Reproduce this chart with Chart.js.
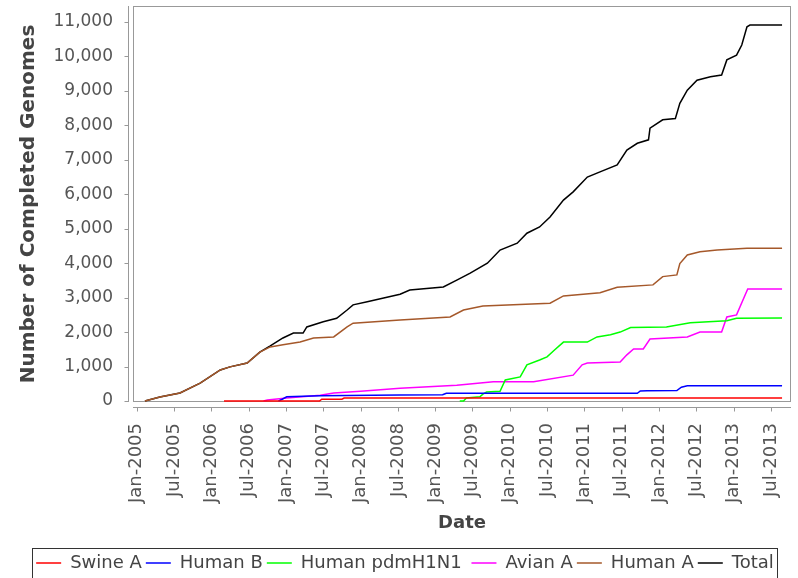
<!DOCTYPE html>
<html>
<head>
<meta charset="utf-8">
<script src="https://cdn.jsdelivr.net/npm/chart.js@4.4.0/dist/chart.umd.min.js"></script>
<style>
html, body { margin: 0; padding: 0; background: #fff; }
</style>
</head>
<body>
<canvas id="genomeChart" width="798" height="578"></canvas>
<script>
// x values are decimal years (Jan = .0, Jul = .5)
const tickLabels = ['Jan-2005', 'Jul-2005', 'Jan-2006', 'Jul-2006', 'Jan-2007', 'Jul-2007',
    'Jan-2008', 'Jul-2008', 'Jan-2009', 'Jul-2009', 'Jan-2010', 'Jul-2010', 'Jan-2011',
    'Jul-2011', 'Jan-2012', 'Jul-2012', 'Jan-2013', 'Jul-2013'];
const yTickValues = [0, 1000, 2000, 3000, 4000, 5000, 6000, 7000, 8000, 9000, 10000, 11000];

const swineDates = [2006.17, 2007.45, 2007.48, 2007.75, 2007.78, 2013.65];
const swineCounts = [0, 0, 50, 50, 85, 85];

const humanBDates = [2006.9, 2006.95, 2007.01, 2007.46, 2008.17, 2008.53, 2009.1, 2009.15, 2011.71, 2011.75, 2011.84, 2012.24, 2012.3, 2012.38, 2013.65];
const humanBCounts = [0, 50, 120, 150, 170, 175, 180, 225, 225, 290, 300, 305, 400, 445, 445];

const pdmDates = [2009.33, 2009.38, 2009.42, 2009.6, 2009.64, 2009.69, 2009.87, 2009.94, 2010.14, 2010.23, 2010.4, 2010.5, 2010.6, 2010.72, 2011.04, 2011.17, 2011.35, 2011.48, 2011.62, 2012.1, 2012.42, 2012.91, 2013.04, 2013.65];
const pdmCounts = [0, 0, 90, 120, 200, 260, 280, 610, 700, 1050, 1190, 1280, 1480, 1710, 1710, 1860, 1920, 2000, 2130, 2150, 2270, 2330, 2400, 2410];

const avianDates = [2006.7, 2006.75, 2007.01, 2007.46, 2007.64, 2008.0, 2008.53, 2009.29, 2009.78, 2010.32, 2010.85, 2010.97, 2011.04, 2011.48, 2011.57, 2011.66, 2011.79, 2011.88, 2012.38, 2012.55, 2012.84, 2012.91, 2013.04, 2013.19, 2013.65];
const avianCounts = [0, 30, 90, 170, 230, 280, 370, 460, 560, 560, 750, 1050, 1100, 1130, 1340, 1510, 1510, 1800, 1860, 2000, 2000, 2440, 2500, 3250, 3250];

const humanADates = [2005.11, 2005.31, 2005.58, 2005.85, 2006.12, 2006.25, 2006.48, 2006.65, 2006.79, 2006.96, 2007.19, 2007.37, 2007.64, 2007.82, 2007.9, 2008.53, 2009.2, 2009.38, 2009.64, 2010.54, 2010.72, 2011.21, 2011.44, 2011.92, 2012.05, 2012.24, 2012.28, 2012.38, 2012.55, 2012.78, 2013.18, 2013.65];
const humanACounts = [0, 116, 232, 520, 900, 990, 1100, 1420, 1570, 1630, 1710, 1830, 1860, 2150, 2260, 2350, 2440, 2640, 2760, 2840, 3050, 3140, 3300, 3370, 3610, 3660, 3990, 4240, 4330, 4380, 4430, 4430];

const totalDates = [2005.11, 2005.31, 2005.58, 2005.85, 2006.12, 2006.25, 2006.48, 2006.65, 2006.79, 2006.96, 2007.1, 2007.23, 2007.28, 2007.5, 2007.68, 2007.82, 2007.9, 2008.09, 2008.31, 2008.53, 2008.66, 2009.11, 2009.29, 2009.47, 2009.7, 2009.87, 2010.1, 2010.23, 2010.4, 2010.54, 2010.72, 2010.85, 2011.04, 2011.21, 2011.44, 2011.57, 2011.71, 2011.86, 2011.88, 2012.05, 2012.22, 2012.28, 2012.38, 2012.51, 2012.69, 2012.84, 2012.91, 2013.04, 2013.11, 2013.18, 2013.22, 2013.65];
const totalCounts = [0, 116, 232, 520, 900, 990, 1100, 1420, 1600, 1830, 1970, 1970, 2150, 2300, 2400, 2640, 2790, 2880, 2990, 3100, 3220, 3310, 3510, 3710, 4000, 4380, 4580, 4870, 5050, 5340, 5830, 6070, 6500, 6650, 6850, 7280, 7480, 7580, 7920, 8160, 8200, 8640, 9020, 9310, 9410, 9460, 9900, 10040, 10330, 10860, 10910, 10910];

const FONT = 'DejaVu Sans';

function toPoints(dates, counts) {
    return dates.map((d, i) => ({ x: d, y: counts[i] }));
}

function labelToYear(label) {
    const [mon, yr] = label.split('-');
    return Number(yr) + (mon === 'Jul' ? 0.5 : 0);
}

function series(label, dates, counts, color) {
    return {
        label: label,
        data: toPoints(dates, counts),
        borderColor: color,
        backgroundColor: color,
        borderWidth: 1.5,
        pointRadius: 0,
        tension: 0,
        fill: false,
        clip: false,
    };
}

// plot outline, offset axis lines and tick marks, legend frame
const framePlugin = {
    id: 'frame',
    beforeDatasetsDraw(chart) {
        const { ctx, chartArea: a, scales: { x, y } } = chart;
        ctx.save();
        ctx.strokeStyle = '#999';
        ctx.lineWidth = 1;
        ctx.strokeRect(a.left + 0.5, a.top + 0.5, a.right - a.left - 1, a.bottom - a.top - 1);
        ctx.beginPath();
        const ax = a.left - 4.5;
        ctx.moveTo(ax, a.top);
        ctx.lineTo(ax, a.bottom);
        y.ticks.forEach((t) => {
            const py = Math.round(y.getPixelForValue(t.value)) + 0.5;
            ctx.moveTo(ax, py);
            ctx.lineTo(ax - 4, py);
        });
        const ay = a.bottom + 5.5;
        ctx.moveTo(a.left, ay);
        ctx.lineTo(a.right, ay);
        x.ticks.forEach((t) => {
            const px = Math.round(x.getPixelForValue(t.value)) + 0.5;
            ctx.moveTo(px, ay);
            ctx.lineTo(px, ay + 4);
        });
        ctx.stroke();
        ctx.restore();
    },
    afterDraw(chart) {
        const lg = chart.legend;
        const boxes = lg.legendHitBoxes;
        if (!boxes || !boxes.length) return;
        const first = boxes[0];
        const last = boxes[boxes.length - 1];
        const ctx = chart.ctx;
        ctx.save();
        ctx.strokeStyle = '#333';
        ctx.lineWidth = 1;
        ctx.strokeRect(Math.round(first.left - 4) + 0.5, Math.round(lg.top - 2) + 0.5,
            Math.round(last.left + last.width - first.left + 7), 40);
        ctx.restore();
    },
};

const ctx = document.getElementById('genomeChart').getContext('2d');
const chart = new Chart(ctx, {
    type: 'line',
    data: {
        datasets: [
            series('Swine A', swineDates, swineCounts, 'rgb(255, 0, 0)'),
            series('Human B', humanBDates, humanBCounts, 'rgb(0, 0, 255)'),
            series('Human pdmH1N1 ', pdmDates, pdmCounts, 'rgb(0, 255, 0)'),
            series('Avian A', avianDates, avianCounts, 'rgb(255, 0, 255)'),
            series('Human A', humanADates, humanACounts, 'rgb(165, 88, 42)'),
            series('Total', totalDates, totalCounts, 'rgb(0, 0, 0)'),
        ],
    },
    plugins: [framePlugin],
    options: {
        responsive: false,
        animation: false,
        devicePixelRatio: 1,
        layout: {
            padding: { left: 19, right: 7, top: 6, bottom: -4 },
        },
        plugins: {
            tooltip: { enabled: false },
            legend: {
                position: 'bottom',
                align: 'center',
                labels: {
                    usePointStyle: true,
                    pointStyle: 'line',
                    pointStyleWidth: 25,
                    padding: 4,
                    color: '#444',
                    font: { family: FONT, size: 18 },
                },
            },
        },
        scales: {
            x: {
                type: 'linear',
                position: 'bottom',
                min: 2004.95,
                max: 2013.77,
                afterBuildTicks: (scale) => {
                    scale.ticks = tickLabels.map((l) => ({ value: labelToYear(l) }));
                },
                afterFit: (scale) => {
                    scale.height = 148;
                    scale.paddingLeft = 0;
                    scale.paddingRight = 0;
                },
                ticks: {
                    autoSkip: false,
                    minRotation: 90,
                    maxRotation: 90,
                    padding: 11,
                    color: '#555',
                    font: { family: FONT, size: 18 },
                    callback: (value, index) => tickLabels[index],
                },
                grid: {
                    drawOnChartArea: false,
                    tickLength: 10,
                    tickColor: 'rgba(0,0,0,0)',
                },
                border: { display: false },
                title: {
                    display: true,
                    text: 'Date',
                    color: '#444',
                    font: { family: FONT, size: 18, weight: 'bold' },
                    padding: { top: 0, bottom: 16 },
                },
            },
            y: {
                min: -29,
                max: 11464,
                afterBuildTicks: (scale) => {
                    scale.ticks = yTickValues.map((v) => ({ value: v }));
                },
                afterFit: (scale) => {
                    scale.width = 114;
                    scale.paddingTop = 0;
                    scale.paddingBottom = 0;
                },
                ticks: {
                    padding: 10,
                    color: '#555',
                    font: { family: FONT, size: 17 },
                    callback: (value) => value.toLocaleString('en-US'),
                },
                grid: {
                    drawOnChartArea: false,
                    tickLength: 10,
                    tickColor: 'rgba(0,0,0,0)',
                },
                border: { display: false },
                title: {
                    display: true,
                    text: 'Number of Completed Genomes',
                    color: '#444',
                    font: { family: FONT, size: 20, weight: 'bold', lineHeight: 1 },
                    padding: 0,
                },
            },
        },
    },
});
</script>
</body>
</html>
